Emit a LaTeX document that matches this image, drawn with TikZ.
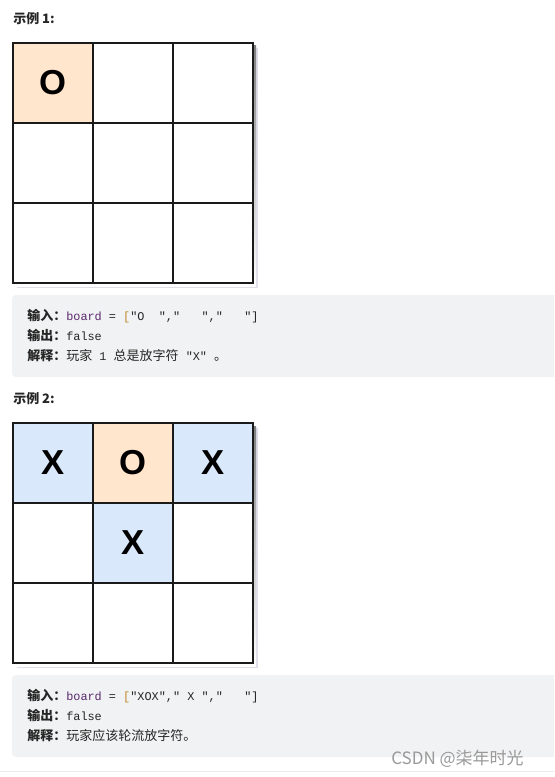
\documentclass[tikz,border=0pt]{standalone}
\usepackage{fontspec}
\setmainfont{Liberation Sans}
\newfontfamily\cjk{Noto Sans CJK SC}
\newfontfamily\codefont{Liberation Mono}
\usepackage{xcolor}
\usepackage{tikz}
\usetikzlibrary{positioning, calc}

\definecolor{ofill}{HTML}{FFE6CC}
\definecolor{xfill}{HTML}{DAE8FC}
\definecolor{boxgray}{HTML}{F1F2F3}
\definecolor{shade}{HTML}{C4C4DA}
\definecolor{kwcol}{HTML}{5B2A6E}
\definecolor{brcol}{HTML}{C08A2B}
\definecolor{inkcol}{HTML}{1A1A1A}

\newcommand{\code}[1]{{\codefont\fontsize{8.9}{10}\selectfont #1}}
\newcommand{\lbl}[1]{{\cjk\bfseries #1}}

\begin{document}
\begin{tikzpicture}[x=0.75pt, y=-0.75pt,
	gridline/.style={draw=inkcol, line width=1.5pt},
	piece/.style={font=\fontsize{26}{26}\selectfont\bfseries, text=black},
	title/.style={anchor=west, inner sep=0pt, font=\cjk\bfseries\fontsize{9.75}{12}\selectfont, text=black!85},
	codeline/.style={anchor=base west, inner sep=0pt, font=\cjk\fontsize{9.75}{12}\selectfont, text=black!85}]
		
		\useasboundingbox (0,0) rectangle (554,777);
		\clip (0,0) rectangle (554,777);
		
		%//example 1
		
		\node [title] (t1) at (13,19) {示例 1:};
		
		\def\ytop{43}
		
		\fill [shade!55] (17,\ytop+5) rectangle (258,\ytop+245);
		\fill [shade] (15,\ytop+3) rectangle (256,\ytop+243);
		\fill [white] (13,\ytop) rectangle (253,\ytop+240);
		\fill [ofill] (13,\ytop) rectangle (93,\ytop+80);
		\foreach \x in {1,2}
		\draw [gridline] (13+80*\x,\ytop) -- (13+80*\x,\ytop+240);
		\foreach \y in {1,2}
		\draw [gridline] (13,\ytop+80*\y) -- (253,\ytop+80*\y);
		\draw [gridline] (13,\ytop) rectangle (253,\ytop+240);
		
		\node [piece] (b1-0-0) at (53,\ytop+40) {O};
		
		\fill [boxgray, rounded corners=3] (12,295) rectangle (570,377);
		\node [codeline] (in1) at (27,320) {\lbl{输入：}\code{\textcolor{kwcol}{board} = \textcolor{brcol}{[}"O\ \ ","\ \ \ ","\ \ \ "]}};
		\node [codeline] (out1) at (27,340) {\lbl{输出：}\code{false}};
		\node [codeline] (why1) at (27,360) {\lbl{解释：}玩家\code{ 1 }总是放字符\code{ "X" }。};
		
		%//example 2
		
		\node [title] (t2) at (13,399) {示例 2:};
		
		\def\ytop{423}
		
		\fill [shade!55] (17,\ytop+5) rectangle (258,\ytop+245);
		\fill [shade] (15,\ytop+3) rectangle (256,\ytop+243);
		\fill [white] (13,\ytop) rectangle (253,\ytop+240);
		\foreach \c/\r/\col in {0/0/xfill, 1/0/ofill, 2/0/xfill, 1/1/xfill}
		\fill [\col] (13+80*\c,\ytop+80*\r) rectangle (93+80*\c,\ytop+80+80*\r);
		\foreach \x in {1,2}
		\draw [gridline] (13+80*\x,\ytop) -- (13+80*\x,\ytop+240);
		\foreach \y in {1,2}
		\draw [gridline] (13,\ytop+80*\y) -- (253,\ytop+80*\y);
		\draw [gridline] (13,\ytop) rectangle (253,\ytop+240);
		
		\foreach \c/\r/\val in {0/0/X, 1/0/O, 2/0/X, 1/1/X}
		\node [piece] (b2-\r-\c) at (53+80*\c,\ytop+40+80*\r) {\val};
		
		\fill [boxgray, rounded corners=3] (12,675) rectangle (570,757);
		\node [codeline] (in2) at (27,700) {\lbl{输入：}\code{\textcolor{kwcol}{board} = \textcolor{brcol}{[}"XOX","\ X\ ","\ \ \ "]}};
		\node [codeline] (out2) at (27,720) {\lbl{输出：}\code{false}};
		\node [codeline] (why2) at (27,740) {\lbl{解释：}玩家应该轮流放字符。};
		
		\draw [black!8, line width=0.75pt] (0,771) -- (554,771);
		\node [anchor=west, inner sep=0pt, font=\cjk\fontsize{12.75}{14}\selectfont, text=black!40] (mark) at (391,759) {CSDN @柒年时光};
		
\end{tikzpicture}
\end{document}
